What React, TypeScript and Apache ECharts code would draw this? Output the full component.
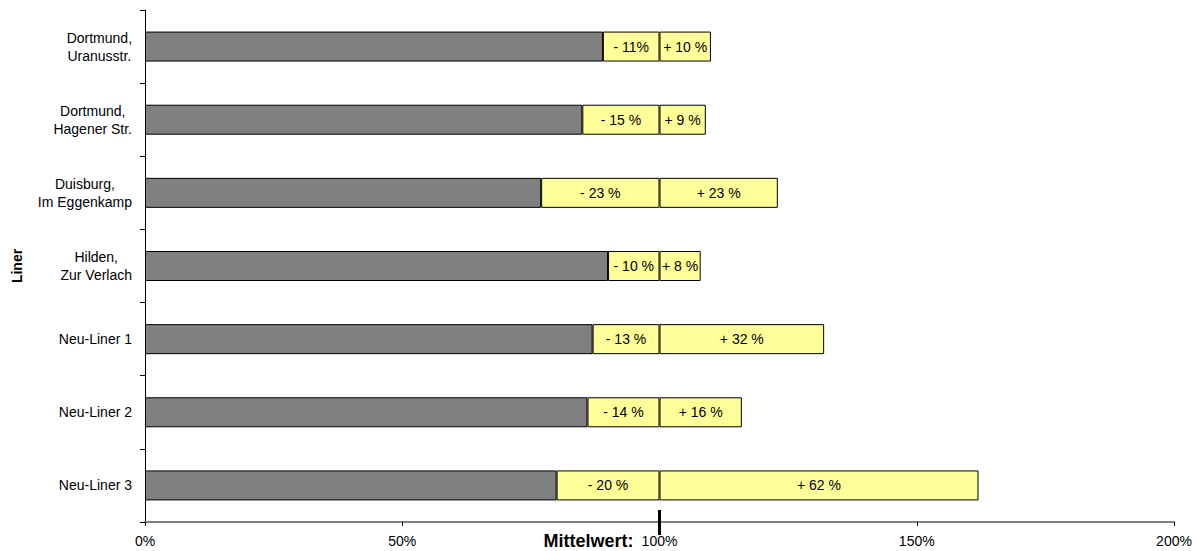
import React, { useEffect, useRef } from "react";
import * as echarts from "echarts";

const categories = [
  "Dortmund,\nUranusstr.",
  "Dortmund,\nHagener Str.",
  "Duisburg,\nIm Eggenkamp",
  "Hilden,\nZur Verlach",
  "Neu-Liner 1",
  "Neu-Liner 2",
  "Neu-Liner 3",
];
const minusValues = [11, 15, 23, 10, 13, 14, 20];
const plusValues = [10, 9, 23, 8, 32, 16, 62];
const minusLabels = ["- 11%", "- 15 %", "- 23 %", "- 10 %", "- 13 %", "- 14 %", "- 20 %"];
const plusLabels = ["+ 10 %", "+ 9 %", "+ 23 %", "+ 8 %", "+ 32 %", "+ 16 %", "+ 62 %"];
const xTicks = [0, 50, 100, 150, 200];
const meanValue = 100;

const FONT = "'Liberation Sans', Arial, sans-serif";

export default function App() {
  const ref = useRef<HTMLDivElement>(null);
  useEffect(() => {
    if (!ref.current) return;
    const chart = echarts.init(ref.current, null, { renderer: "svg" });
    const baseValues = minusValues.map((m) => meanValue - m);
    const barCommon = {
      type: "bar",
      stack: "s",
      barWidth: 30,
      itemStyle: { borderColor: "#000", borderWidth: 1 },
    };
    const labelStyle = {
      show: true,
      position: "inside",
      color: "#000",
      fontSize: 14,
      fontFamily: FONT,
    };
    chart.setOption({
      animation: false,
      textStyle: { fontFamily: FONT },
      grid: { left: 145, right: 23, top: 10, bottom: 29, containLabel: false },
      xAxis: {
        type: "value",
        min: xTicks[0],
        max: xTicks[xTicks.length - 1],
        interval: 50,
        axisLine: { show: true, lineStyle: { color: "#808080", width: 2 } },
        axisTick: { show: true, length: 4, lineStyle: { color: "#000" } },
        splitLine: { show: false },
        axisLabel: {
          margin: 12,
          color: "#000",
          fontSize: 14,
          fontFamily: FONT,
          formatter: (v: number) => `${v}%`,
        },
      },
      yAxis: {
        type: "category",
        inverse: true,
        data: categories,
        name: "Liner",
        nameLocation: "middle",
        nameGap: 121,
        nameRotate: 90,
        nameTextStyle: { fontWeight: "bold", fontSize: 14, color: "#000", fontFamily: FONT },
        axisLine: { show: true, lineStyle: { color: "#000", width: 1 } },
        axisTick: { show: true, length: 5, lineStyle: { color: "#000" } },
        axisLabel: {
          margin: 13,
          color: "#000",
          fontSize: 14,
          lineHeight: 18,
          fontFamily: FONT,
          align: "right",
          formatter: (v: string) =>
            v.split("\n").map((l) => `{c|${l}}`).join("\n"),
          rich: {
            c: { align: "center", fontSize: 14, lineHeight: 18, color: "#000", fontFamily: FONT },
          },
        },
      },
      series: [
        {
          ...barCommon,
          name: "base",
          data: baseValues,
          itemStyle: { color: "#808080", borderColor: "#000", borderWidth: 1 },
        },
        {
          ...barCommon,
          name: "minus",
          data: minusValues,
          itemStyle: { color: "#FFFF99", borderColor: "#000", borderWidth: 1 },
          label: { ...labelStyle, formatter: (p: any) => minusLabels[p.dataIndex] },
        },
        {
          ...barCommon,
          name: "plus",
          data: plusValues,
          itemStyle: { color: "#FFFF99", borderColor: "#000", borderWidth: 1 },
          label: { ...labelStyle, formatter: (p: any) => plusLabels[p.dataIndex] },
        },
      ],
    });
    const px = chart.convertToPixel({ xAxisIndex: 0 }, meanValue) as number;
    const axisY = 551 - 29;
    chart.setOption({
      graphic: [
        {
          type: "rect",
          shape: { x: px - 1.5, y: axisY - 12, width: 3, height: 25 },
          style: { fill: "#000" },
          z: 100,
        },
        {
          type: "text",
          x: px - 26,
          y: axisY + 19,
          style: {
            text: "Mittelwert:",
            fontSize: 18,
            fontWeight: "bold",
            fontFamily: FONT,
            fill: "#000",
            align: "right",
            verticalAlign: "middle",
          },
        },
      ],
    });
    return () => chart.dispose();
  }, []);
  return (
    <div
      ref={ref}
      style={{ position: "fixed", left: 0, top: 0, width: 1197, height: 551, background: "#fff" }}
    />
  );
}
